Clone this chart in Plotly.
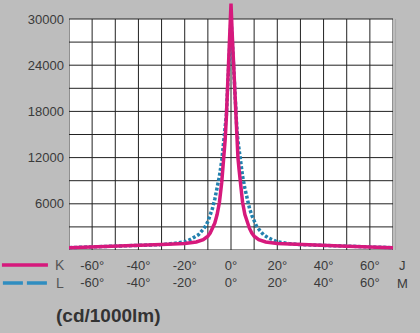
import plotly.graph_objects as go

# Luminous intensity distribution, cd per 1000 lm
angles_k = [-70, -60, -50, -40, -30, -20, -15, -12, -10, -9, -8, -7, -6, -5, -4, -3.5, -3, -2.5, -2, -1.5, -1, -0.5,
            0, 0.5, 1, 1.5, 2, 2.5, 3, 3.5, 4, 5, 6, 7, 8, 9, 10, 12, 15, 20, 30, 40, 50, 60, 70]
values_k = [300, 380, 480, 600, 700, 850, 1050, 1350, 1800, 2200, 2800, 3500, 4600, 6200, 8800, 10400, 12000, 14400, 17300, 21000, 24800, 28200,
            32000, 28200, 24800, 21000, 17300, 14400, 12000, 10400, 8800, 6200, 4600, 3500, 2800, 2200, 1800, 1350, 1050, 850, 700, 600, 480, 380, 300]

angles_l = [-70, -60, -50, -40, -30, -25, -20, -18, -16, -14, -12, -11, -10, -9, -8, -7, -6, -5, -4, -3, -2.5, -2, -1.5, -1, -0.5,
            0, 0.5, 1, 1.5, 2, 2.5, 3, 4, 5, 6, 7, 8, 9, 10, 11, 12, 14, 16, 18, 20, 25, 30, 40, 50, 60, 70]
values_l = [300, 380, 480, 600, 700, 850, 1050, 1300, 1600, 2000, 2700, 3100, 3700, 4500, 5400, 6600, 8000, 9600, 11600, 14200, 15900, 17500, 20800, 24500, 27500,
            30000, 27500, 24500, 20800, 17500, 15900, 14200, 11600, 9600, 8000, 6600, 5400, 4500, 3700, 3100, 2700, 2000, 1600, 1300, 1050, 850, 700, 600, 480, 380, 300]

tick_angles = [-60, -40, -20, 0, 20, 40, 60]
tick_labels_k = ["-60°", "-40°", "-20°", "0°", "20°", "40°", "60°"]
tick_labels_l = ["-60°", "-40°", "-20°", "0°", "20°", "40°", "60°"]
y_ticks = [6000, 12000, 18000, 24000, 30000]

PINK = "#d6197c"
BLUE = "#2280ae"
GRID = "#222222"
BG = "#bdbdbd"
TXT = "#3a3a3a"
SANS = "Arial, Liberation Sans, sans-serif"

X_MIN, X_MAX, Y_TOP = -70, 70, 30000

fig = go.Figure()
fig.add_trace(go.Scatter(x=angles_l, y=values_l, mode="lines", name="L",
                         line=dict(color=BLUE, width=3.5, dash="3px,2px"), showlegend=False))
fig.add_trace(go.Scatter(x=angles_k, y=values_k, mode="lines", name="K",
                         line=dict(color=PINK, width=3.5), showlegend=False))

shapes = [dict(type="rect", xref="x", yref="y", x0=X_MIN, x1=X_MAX, y0=0, y1=Y_TOP,
               fillcolor="white", line=dict(width=0), layer="below")]
for gx in range(X_MIN, X_MAX + 1, 10):
    shapes.append(dict(type="line", xref="x", yref="y", x0=gx, x1=gx, y0=0, y1=Y_TOP,
                       line=dict(color=GRID, width=1), layer="below"))
for gy in range(0, Y_TOP + 1, 3000):
    shapes.append(dict(type="line", xref="x", yref="y", x0=X_MIN, x1=X_MAX, y0=gy, y1=gy,
                       line=dict(color=GRID, width=1), layer="below"))
# faint frame shadow on the right
shapes.append(dict(type="line", xref="paper", yref="y", x0=1.008, x1=1.008, y0=0, y1=Y_TOP,
                   line=dict(color="#a8a8a8", width=1)))
# legend keys
shapes.append(dict(type="line", xref="paper", yref="paper", x0=-0.207, x1=-0.065, y0=-0.06, y1=-0.06,
                   line=dict(color=PINK, width=3.5)))
shapes.append(dict(type="line", xref="paper", yref="paper", x0=-0.204, x1=-0.059, y0=-0.132, y1=-0.132,
                   line=dict(color="#2f8dc0", width=3.5, dash="20px,4px")))

annotations = [
    dict(text="K", xref="paper", yref="paper", x=-0.028, y=-0.06, showarrow=False,
         font=dict(family=SANS, size=14, color="#555555"), xanchor="center", yanchor="middle"),
    dict(text="L", xref="paper", yref="paper", x=-0.028, y=-0.132, showarrow=False,
         font=dict(family=SANS, size=14, color="#555555"), xanchor="center", yanchor="middle"),
    dict(text="J", xref="paper", yref="paper", x=1.03, y=-0.06, showarrow=False,
         font=dict(family=SANS, size=13, color=TXT), xanchor="center", yanchor="middle"),
    dict(text="M", xref="paper", yref="paper", x=1.03, y=-0.132, showarrow=False,
         font=dict(family=SANS, size=13, color=TXT), xanchor="center", yanchor="middle"),
    dict(text="<b>(cd/1000lm)</b>", xref="paper", yref="paper", x=0.123, y=-0.26, showarrow=False,
         font=dict(family=SANS, size=19, color="#333333"),
         xanchor="center", yanchor="middle"),
]

fig.update_layout(
    width=420, height=333,
    margin=dict(l=69, r=27, t=0, b=83),
    paper_bgcolor=BG, plot_bgcolor=BG,
    shapes=shapes, annotations=annotations,
    xaxis=dict(range=[X_MIN, X_MAX], showgrid=False, zeroline=False, showline=False, ticks="",
               tickvals=tick_angles,
               ticktext=[a + "<br>" + b for a, b in zip(tick_labels_k, tick_labels_l)],
               tickfont=dict(family=SANS, size=13, color=TXT), ticklabelstandoff=6),
    yaxis=dict(range=[0, 32468], showgrid=False, zeroline=False, showline=False, ticks="",
               tickvals=y_ticks, ticktext=[str(v) for v in y_ticks],
               tickfont=dict(family=SANS, size=13, color=TXT), ticklabelstandoff=4),
    showlegend=False,
)

fig.write_html("out.html")
